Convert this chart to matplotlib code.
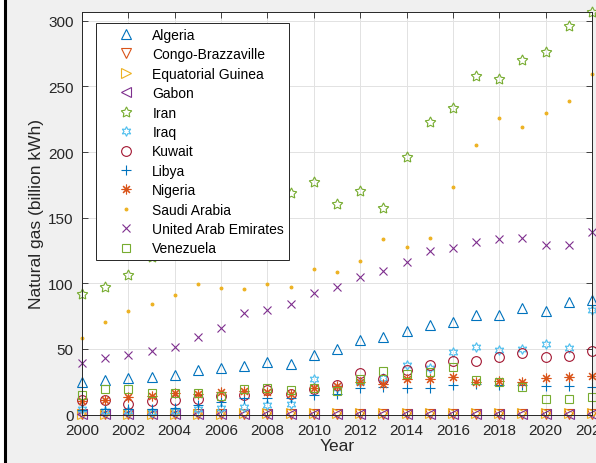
import numpy as np
import matplotlib
matplotlib.use("Agg")
import matplotlib.pyplot as plt
from matplotlib.lines import Line2D
from matplotlib.patches import Rectangle

plt.rcParams['font.family'] = ['Liberation Sans', 'DejaVu Sans']

years = list(range(2000, 2023))

algeria = [25, 26.3, 27.6, 28.8, 30.1, 34.1, 35.2, 37.2, 40.2, 38.5, 45.3, 49.9,
           56.8, 59.3, 63.9, 68.4, 70.7, 76.1, 76.1, 80.9, 78.6, 85.5, 87]
congo = [0.1, 0.1, 0.1, 0.1, 0.1, 0.2, 0.2, 0.3, 0.3, 0.3, 0.4, 0.4,
         0.4, 0.4, 0.4, 0.5, 0.5, 0.5, 0.5, 0.5, 0.6, 0.6, 0.6]
eq_guinea = [0.1, 0.1, 0.1, 0.1, 0.2, 0.3, 0.4, 1.0, 1.2, 1.2, 1.2, 1.2,
             1.2, 1.2, 1.2, 1.2, 1.2, 1.2, 1.2, 1.2, 1.5, 1.5, 1.5]
gabon = [0.2, 0.2, 0.2, 0.2, 0.2, 0.2, 0.2, 0.2, 0.3, 0.3, 0.3, 0.3,
         0.3, 0.3, 0.3, 0.3, 0.3, 0.3, 0.3, 0.3, 0.3, 0.3, 0.3]
iran = [91.8, 96.9, 106.3, 120, 130, 138, 145, 155, 160, 168.5, 177, 160.4,
        170, 157.1, 196, 222.7, 233.6, 258.2, 255.7, 270.4, 276, 295.8, 307]
iraq = [4, 3, 3, 2, 3, 4, 5, 6, 7, 8, 27, 20,
        25, 28, 38, 35.4, 47.4, 51.2, 49.4, 49.9, 53.7, 50.4, 79.5]
kuwait = [11, 11, 8, 10, 11, 11.8, 14.3, 15.1, 18.9, 15.4, 19.4, 22.5,
          31.6, 27, 33.9, 38, 41, 41, 43.6, 46.6, 43.6, 44.8, 48.1]
libya = [3.7, 4, 4.5, 4.5, 5, 7.2, 9.3, 12.6, 12.3, 12.6, 14.9, 15.6,
         20, 21, 20, 20, 22.5, 23.2, 22.5, 22.5, 21.5, 21.5, 21.2]
nigeria = [10, 11, 13, 13.9, 16.4, 15.6, 16.9, 18.1, 16.9, 15.6, 20, 21.5,
           24.5, 23.2, 27, 27, 28.8, 25, 25.8, 24.5, 27.8, 28.3, 29.6]
saudi = [58, 70.3, 79.1, 84, 91, 99.4, 96.6, 95.6, 99.7, 97.4, 110.9, 108.3,
         117.2, 133.7, 127.9, 134.7, 173.1, 205.4, 225.7, 219.3, 229.7, 238.9, 259.7]
uae = [39.2, 42.8, 45.6, 48.1, 51.2, 59.3, 65.9, 77.3, 79.6, 84.4, 92.3, 97.4,
       104.5, 109.6, 116, 124.4, 126.9, 131.2, 133.7, 134.3, 128.9, 128.9, 139.3]
venezuela = [14.9, 19.4, 19.4, 16.4, 16.4, 16.2, 13.9, 19.4, 20, 18.9, 20, 18.1,
             27, 33.4, 30.9, 32.2, 36, 26.3, 24.5, 20.7, 11.8, 11.8, 13.1]

countries = ['Algeria', 'Congo-Brazzaville', 'Equatorial Guinea', 'Gabon', 'Iran',
             'Iraq', 'Kuwait', 'Libya', 'Nigeria', 'Saudi Arabia',
             'United Arab Emirates', 'Venezuela']
series = [algeria, congo, eq_guinea, gabon, iran, iraq, kuwait, libya, nigeria,
          saudi, uae, venezuela]

# MATLAB default colour order
colors = [(0, 0.447, 0.741), (0.85, 0.325, 0.098), (0.929, 0.694, 0.125),
          (0.494, 0.184, 0.556), (0.466, 0.674, 0.188), (0.301, 0.745, 0.933),
          (0.635, 0.078, 0.184)]
# pentagram, hexagram and asterisk like MATLAB
markers = ['^', 'v', '>', '<', (5, 1, 0), (6, 1, 0), 'o', '+', (8, 2, 0), '.', 'x', 's']
sizes = [7, 7, 7, 7, 8, 7, 7, 7, 7, 4, 6, 6]

fig = plt.figure(figsize=(5.96, 4.64), dpi=100, facecolor='#f0f0f0')
ax = fig.add_axes([82 / 596, 48.5 / 464, 510 / 596, 402.8 / 464])
ax.set_facecolor('white')

for i, (name, vals) in enumerate(zip(countries, series)):
    c = colors[i % len(colors)]
    ax.plot(years, vals, linestyle='none', marker=markers[i], markersize=sizes[i],
            markerfacecolor=c if markers[i] == '.' else 'none',
            markeredgecolor=c, markeredgewidth=0.8, label=name, clip_on=False)

ax.set_xlim(2000, 2022)
ax.set_ylim(0, 306.9)
ax.set_xticks(range(2000, 2023, 2))
ax.set_yticks(range(0, 301, 50))
ax.grid(True, color='#e2e2e2', linewidth=0.7)
ax.set_axisbelow(True)
ax.tick_params(direction='in', length=4.5, width=0.6, top=True, right=True,
               labelsize=11, colors='#262626', pad=6)
for s in ax.spines.values():
    s.set_color('#262626')
    s.set_linewidth(0.7)

ax.set_xlabel('Year', fontsize=12.5, color='#262626', labelpad=1)
ax.set_ylabel('Natural gas (billion kWh)', fontsize=12.5, color='#262626', labelpad=3)

leg = ax.legend(loc='upper left', bbox_to_anchor=(14 / 510, 391.5 / 402.8),
                borderaxespad=0, fontsize=10, handlelength=3.6, handletextpad=0.1,
                borderpad=0.35, labelspacing=0.39, fancybox=False, framealpha=1,
                edgecolor='#262626')
leg.get_frame().set_linewidth(0.7)
leg.set_zorder(5)

# edge of the window at the left
fig.add_artist(Rectangle((0, 0), 3.5 / 596, 1, transform=fig.transFigure,
                         facecolor='white', edgecolor='none'))
fig.add_artist(Line2D([5 / 596, 5 / 596], [0, 1], color='black', linewidth=2.2))

fig.savefig('out.png', dpi=100, facecolor=fig.get_facecolor())
